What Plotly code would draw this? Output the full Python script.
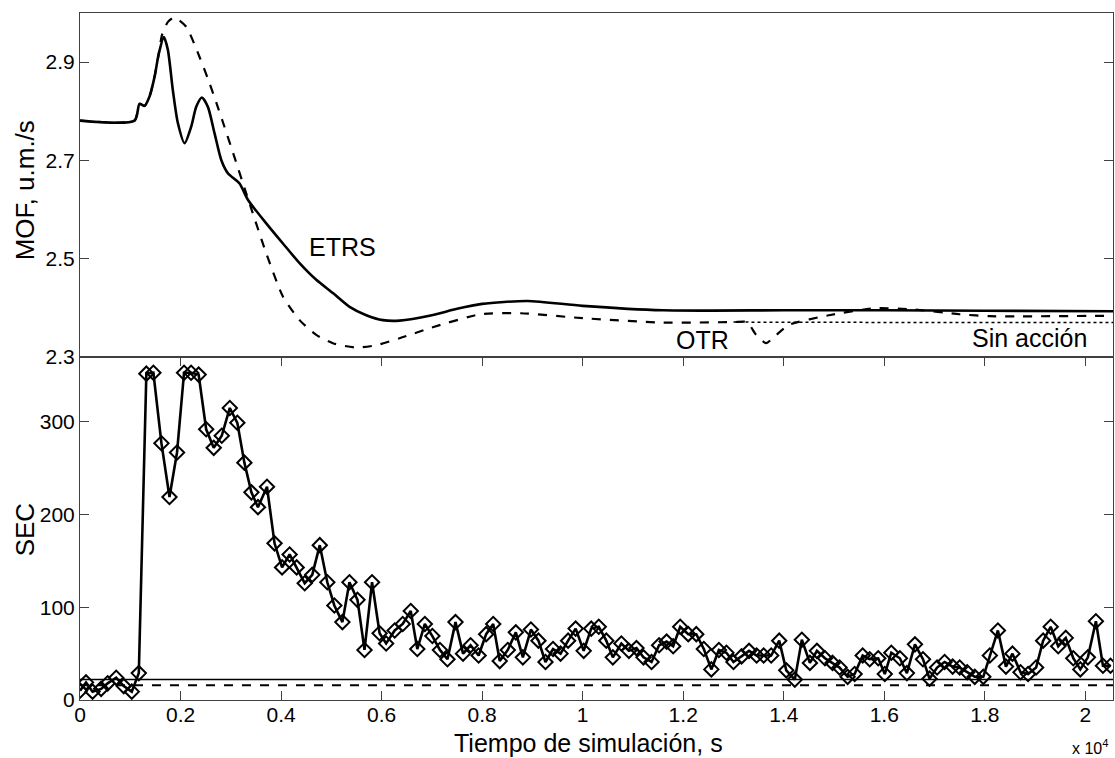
import plotly.graph_objects as go

# ---------------- data (time in units of 1e4 s) ----------------
t_etrs = [0, 0.1085, 0.1184, 0.1284, 0.1383, 0.1483, 0.1569, 0.1668, 0.1748, 0.1847,
          0.1947, 0.208, 0.2213, 0.2312, 0.2424, 0.2544, 0.2677, 0.281, 0.2942, 0.3174,
          0.334, 0.3705, 0.4037, 0.4368, 0.47, 0.5031, 0.5363, 0.5695, 0.6026, 0.6358,
          0.70, 0.75, 0.80, 0.89, 1.0, 1.16, 1.4, 1.6, 1.8, 2.055]
mof_etrs = [2.781, 2.781, 2.815, 2.811, 2.830, 2.870, 2.918, 2.951, 2.925, 2.843,
            2.776, 2.735, 2.769, 2.809, 2.828, 2.809, 2.755, 2.701, 2.674, 2.653,
            2.620, 2.572, 2.531, 2.491, 2.457, 2.430, 2.402, 2.385, 2.375, 2.374,
            2.385, 2.398, 2.408, 2.414, 2.404, 2.395, 2.395, 2.395, 2.394, 2.393]

t_otr = [0, 0.1085, 0.1184, 0.1284, 0.1383, 0.1483, 0.1569, 0.163, 0.175, 0.188,
         0.2113, 0.238, 0.2545, 0.271, 0.2875, 0.304, 0.3307, 0.3705, 0.4037, 0.4368,
         0.47, 0.5031, 0.5496, 0.5894, 0.6358, 0.70, 0.797, 0.877, 1.0, 1.16,
         1.30, 1.327, 1.345, 1.365, 1.38, 1.41, 1.49, 1.58, 1.655, 1.75, 1.81, 2.055]
mof_otr = [2.781, 2.781, 2.815, 2.811, 2.830, 2.870, 2.918, 2.955, 2.982, 2.991,
           2.972, 2.910, 2.866, 2.818, 2.768, 2.717, 2.633, 2.511, 2.423, 2.375,
           2.345, 2.328, 2.319, 2.324, 2.338, 2.360, 2.387, 2.389, 2.379, 2.370,
           2.371, 2.371, 2.345, 2.328, 2.340, 2.365, 2.385, 2.399, 2.397, 2.387, 2.383, 2.384]

t_sin = [1.30, 1.50, 1.75, 2.055]
mof_sin = [2.371, 2.370, 2.370, 2.370]

t_sec = [0, 0.012, 0.025, 0.042, 0.055, 0.072, 0.087, 0.103, 0.117, 0.132,
         0.146, 0.162, 0.178, 0.193, 0.207, 0.221, 0.236, 0.251, 0.266, 0.282,
         0.298, 0.313, 0.327, 0.341, 0.354, 0.372, 0.387, 0.402, 0.417, 0.431,
         0.447, 0.462, 0.477, 0.492, 0.506, 0.522, 0.536, 0.552, 0.566, 0.581,
         0.596, 0.609, 0.626, 0.642, 0.658, 0.671, 0.686, 0.701, 0.716, 0.731,
         0.747, 0.762, 0.777, 0.793, 0.808, 0.822, 0.835, 0.851, 0.867, 0.881,
         0.897, 0.912, 0.926, 0.941, 0.956, 0.971, 0.986, 1.002, 1.017, 1.032,
         1.047, 1.060, 1.077, 1.092, 1.107, 1.121, 1.137, 1.152, 1.167, 1.180,
         1.194, 1.210, 1.226, 1.241, 1.256, 1.271, 1.286, 1.300, 1.316, 1.331,
         1.346, 1.360, 1.375, 1.391, 1.405, 1.422, 1.436, 1.452, 1.466, 1.482,
         1.497, 1.511, 1.527, 1.541, 1.557, 1.571, 1.588, 1.601, 1.614, 1.631,
         1.645, 1.661, 1.677, 1.690, 1.705, 1.720, 1.736, 1.750, 1.765, 1.780,
         1.797, 1.810, 1.826, 1.842, 1.855, 1.871, 1.886, 1.902, 1.916, 1.931,
         1.946, 1.961, 1.976, 1.990, 2.005, 2.021, 2.035, 2.050]
sec = [10, 19, 9, 12, 18, 24, 15, 9, 29, 352,
       353, 277, 219, 267, 353, 353, 351, 292, 272, 285,
       315, 299, 256, 224, 208, 230, 169, 143, 157, 143,
       126, 135, 167, 127, 102, 84, 127, 108, 54, 127,
       72, 61, 75, 82, 96, 55, 82, 69, 54, 44,
       84, 50, 59, 48, 71, 82, 42, 54, 73, 46,
       76, 64, 41, 55, 50, 64, 77, 53, 77, 79,
       64, 46, 61, 53, 56, 46, 41, 59, 63, 58,
       79, 71, 71, 55, 33, 54, 51, 41, 47, 53,
       48, 48, 48, 64, 32, 22, 65, 40, 53, 45,
       40, 35, 25, 28, 48, 44, 45, 28, 51, 45,
       29, 60, 44, 23, 35, 41, 36, 35, 30, 25,
       25, 48, 75, 36, 50, 30, 28, 35, 64, 79,
       58, 67, 45, 33, 46, 85, 37, 37]

ref_solid = 22
ref_dashed = 16
x_end = 2.055

FONT = "Arial, 'Liberation Sans', sans-serif"
AX = '#404040'

fig = go.Figure()

# top panel
fig.add_trace(go.Scatter(x=t_sin, y=mof_sin, xaxis='x2', yaxis='y2', mode='lines',
                         line=dict(color='black', width=1.5, dash='dot')))
fig.add_trace(go.Scatter(x=t_otr, y=mof_otr, xaxis='x2', yaxis='y2', mode='lines',
                         line=dict(color='black', width=2.2, dash='dash', shape='spline', smoothing=0.6)))
fig.add_trace(go.Scatter(x=t_etrs, y=mof_etrs, xaxis='x2', yaxis='y2', mode='lines',
                         line=dict(color='black', width=2.6, shape='spline', smoothing=0.7)))

# bottom panel
fig.add_trace(go.Scatter(x=[0, x_end], y=[ref_solid, ref_solid], xaxis='x', yaxis='y', mode='lines',
                         line=dict(color='black', width=1.5)))
fig.add_trace(go.Scatter(x=[0, x_end], y=[ref_dashed, ref_dashed], xaxis='x', yaxis='y', mode='lines',
                         line=dict(color='black', width=2, dash='dash')))
fig.add_trace(go.Scatter(x=t_sec, y=sec, xaxis='x', yaxis='y', mode='lines+markers',
                         line=dict(color='black', width=2.6),
                         marker=dict(symbol='diamond-open', size=11, color='black',
                                     line=dict(color='black', width=2))))

axis_common = dict(showgrid=False, zeroline=False, showline=True, linecolor=AX, linewidth=1,
                   ticks='inside', ticklen=9, tickcolor=AX, tickwidth=1,
                   tickfont=dict(family=FONT, size=21, color='black'))

fig.update_layout(
    width=1115, height=758,
    margin=dict(l=80, r=2, t=13, b=58),
    paper_bgcolor='white', plot_bgcolor='white',
    showlegend=False,
    font=dict(family=FONT, color='black'),
    xaxis=dict(domain=[0, 1], range=[0, x_end], anchor='y', tick0=0, dtick=0.2,
               mirror='ticks', ticklabelstandoff=-4, **axis_common),
    yaxis=dict(domain=[0, 0.4993], range=[0, 370], anchor='x', tickvals=[0, 100, 200, 300],
               mirror='ticks', **axis_common),
    xaxis2=dict(domain=[0, 1], range=[0, x_end], anchor='y2', matches='x',
                showticklabels=False, showgrid=False, zeroline=False, showline=True,
                linecolor=AX, linewidth=1, mirror=True, ticks=''),
    yaxis2=dict(domain=[0.4993, 1], range=[2.3, 3.0], anchor='x2', tickvals=[2.3, 2.5, 2.7, 2.9],
                mirror='ticks', **axis_common),
)

ann = [
    dict(text='MOF, u.m./s', xref='paper', yref='paper', x=-0.0532, y=0.742, textangle=-90,
         showarrow=False, font=dict(size=26), xanchor='center', yanchor='middle'),
    dict(text='SEC', xref='paper', yref='paper', x=-0.0532, y=0.247, textangle=-90,
         showarrow=False, font=dict(size=26), xanchor='center', yanchor='middle'),
    dict(text='Tiempo de simulación, s', xref='paper', yref='paper', x=0.4918, y=-0.0632,
         showarrow=False, font=dict(size=25), xanchor='center', yanchor='middle'),
    dict(text='x 10<sup>4</sup>', xref='paper', yref='paper', x=0.997, y=-0.068,
         showarrow=False, font=dict(size=16), xanchor='right', yanchor='middle'),
    dict(text='ETRS', xref='x2', yref='y2', x=0.522, y=2.524, showarrow=False,
         font=dict(size=25), xanchor='center', yanchor='middle'),
    dict(text='OTR', xref='x2', yref='y2', x=1.239, y=2.335, showarrow=False,
         font=dict(size=25), xanchor='center', yanchor='middle'),
    dict(text='Sin acción', xref='x2', yref='y2', x=1.889, y=2.339, showarrow=False,
         font=dict(size=25), xanchor='center', yanchor='middle'),
]
fig.update_layout(annotations=ann)

# remove the browser's default 8px page margin so the 1115x758 figure fills the window
fig.write_html("out.html", config={'displayModeBar': False},
               post_script="document.body.style.margin='0px';")
